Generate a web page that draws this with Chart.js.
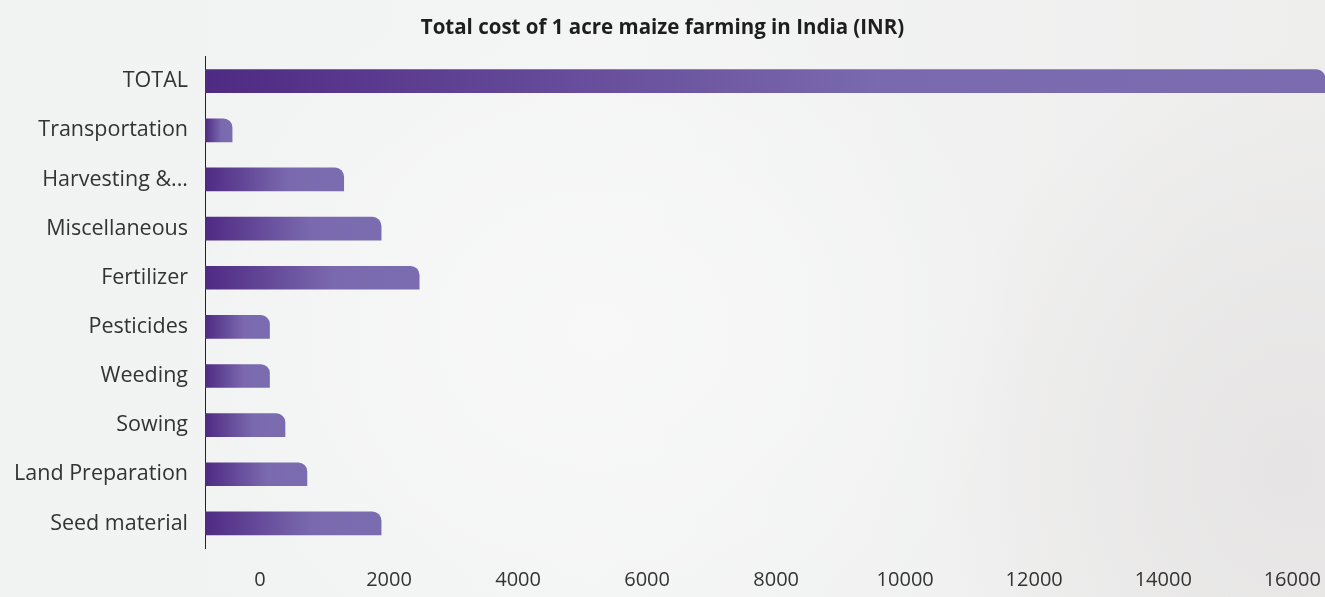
<!DOCTYPE html>
<html>
<head>
<meta charset="utf-8">
<script src="https://cdn.jsdelivr.net/npm/chart.js@4.4.1/dist/chart.umd.min.js"></script>
<style>
    html, body {
        margin: 0;
        padding: 0;
    }
    body {
        width: 1325px;
        height: 597px;
        overflow: hidden;
        background:
            radial-gradient(ellipse 420px 360px at 600px 330px, rgba(248,248,249,1) 0%, rgba(248,248,249,0) 100%),
            radial-gradient(ellipse 360px 420px at 1290px 470px, rgba(230,228,228,1) 0%, rgba(230,228,228,0) 100%),
            linear-gradient(90deg, #f1f2f2 0%, #f3f4f4 45%, #eeeeed 100%);
    }
    #chart_box {
        position: relative;
        width: 1325px;
        height: 597px;
    }
</style>
</head>
<body>
<div id="chart_box"><canvas id="maize_cost_canvas"></canvas></div>
<script>
// values (INR per acre)
const categories = [
    "TOTAL",
    "Transportation",
    "Harvesting &...",
    "Miscellaneous",
    "Fertilizer",
    "Pesticides",
    "Weeding",
    "Sowing",
    "Land Preparation",
    "Seed material"
];
const costs = [17360, 420, 2150, 2730, 3320, 1000, 1000, 1240, 1580, 2730];
const x_ticks = [0, 2000, 4000, 6000, 8000, 10000, 12000, 14000, 16000];

const font_family = "'Open Sans', 'Noto Sans', sans-serif";

function bar_gradient(context) {
    let chart = context.chart;
    if (!chart.chartArea || context.type !== 'data') {
        return '#7b6cb0';
    }
    let x_scale = chart.scales.x;
    let x0 = x_scale.getPixelForValue(0);
    let x1 = x_scale.getPixelForValue(context.raw);
    let gradient = chart.ctx.createLinearGradient(x0, 0, x1, 0);
    gradient.addColorStop(0, '#4f2a83');
    gradient.addColorStop(0.6, '#7a69ae');
    gradient.addColorStop(1, '#7b6cb0');
    return gradient;
}

let data = {
    labels: categories,
    datasets: [
        {
            label: "Cost (INR)",
            data: costs,
            backgroundColor: bar_gradient,
            borderWidth: 0,
            borderSkipped: 'start',
            borderRadius: { topLeft: 0, topRight: 9, bottomLeft: 0, bottomRight: 0 },
            barThickness: 23
        }
    ]
};

let config = {
    type: 'bar',
    data: data,
    options: {
        indexAxis: 'y',
        responsive: true,
        maintainAspectRatio: false,
        animation: false,
        layout: {
            padding: 0
        },
        plugins: {
            legend: {
                display: false
            },
            title: {
                display: true,
                text: "Total cost of 1 acre maize farming in India (INR)",
                color: '#1e1e1e',
                font: {
                    family: font_family,
                    size: 20.5,
                    weight: 'bold',
                    lineHeight: 1.2
                },
                padding: { top: 16, bottom: 16 }
            },
            tooltip: {
                enabled: true
            }
        },
        scales: {
            x: {
                min: 0,
                max: costs[0],
                grid: { display: false, drawTicks: false },
                border: { display: false },
                afterBuildTicks: (scale) => {
                    scale.ticks = x_ticks.map(v => ({ value: v }));
                },
                afterFit: (scale) => {
                    scale.height = 49;
                },
                ticks: {
                    color: '#333333',
                    padding: 20,
                    labelOffset: 55,
                    maxRotation: 0,
                    autoSkip: false,
                    font: { family: font_family, size: 20 },
                    callback: (value) => String(value)
                }
            },
            y: {
                grid: { display: false, drawTicks: false },
                border: { display: true, color: '#222222', width: 1 },
                afterFit: (scale) => {
                    scale.width = 205;
                },
                ticks: {
                    color: '#333333',
                    padding: 17,
                    autoSkip: false,
                    font: { family: font_family, size: 21.5 }
                }
            }
        }
    }
};

let maize_cost_chart = new Chart(
    document.getElementById('maize_cost_canvas'),
    config
);
</script>
</body>
</html>
